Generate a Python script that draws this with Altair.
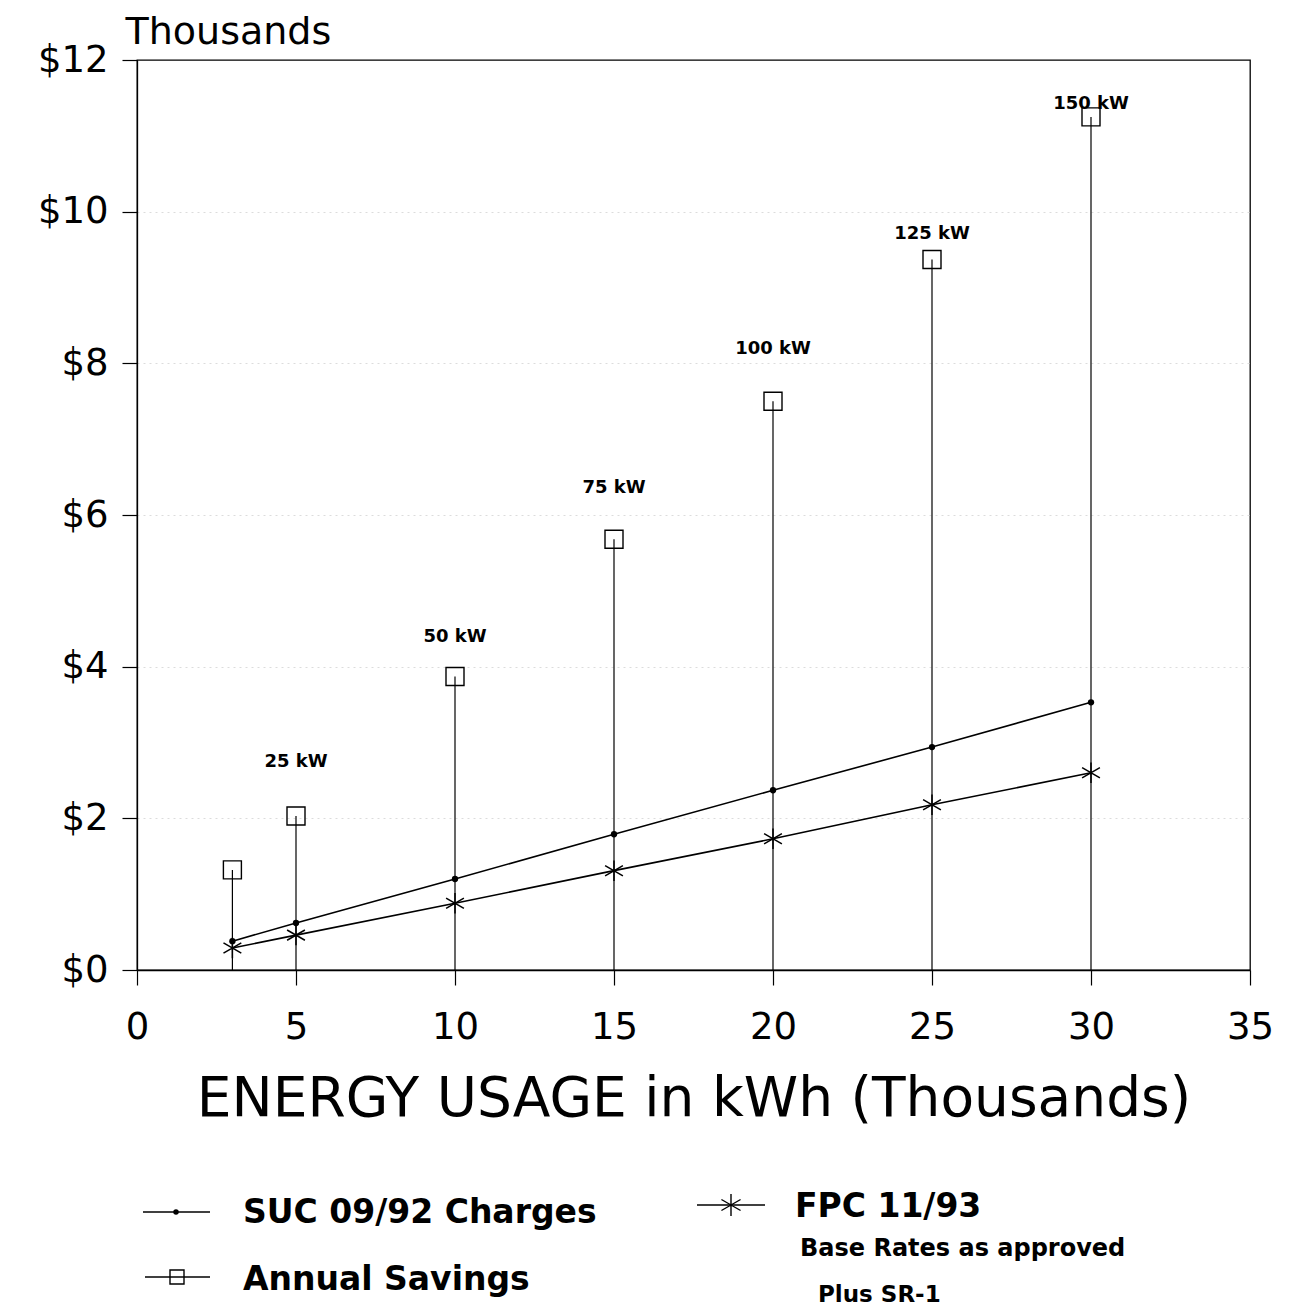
import altair as alt
import pandas as pd

# ---- data ----
usage = [3, 5, 10, 15, 20, 25, 30]                 # kWh (thousands)
suc = [0.38, 0.62, 1.20, 1.79, 2.37, 2.94, 3.53]   # SUC 09/92 charges ($ thousands)
fpc = [0.29, 0.46, 0.88, 1.31, 1.73, 2.18, 2.60]   # FPC 11/93 ($ thousands)
savings = [1.32, 2.03, 3.87, 5.68, 7.50, 9.37, 11.25]  # Annual savings ($ thousands)

demand_labels = ["25 kW", "50 kW", "75 kW", "100 kW", "125 kW", "150 kW"]
label_usage = [5, 10, 15, 20, 25, 30]
label_y = [2.74, 4.39, 6.35, 8.19, 9.70, 11.42]

x_ticks = [0, 5, 10, 15, 20, 25, 30, 35]
y_ticks = [0, 2, 4, 6, 8, 10, 12]

FONT = "DejaVu Sans"
STAR = "M0,-1L0,1M-0.87,-0.5L0.87,0.5M-0.87,0.5L0.87,-0.5"

df = pd.DataFrame({"usage": usage, "suc": suc, "fpc": fpc, "savings": savings, "zero": [0] * len(usage)})
lab = pd.DataFrame({"usage": label_usage, "y": label_y, "text": demand_labels})

xs = alt.Scale(domain=[0, 35], nice=False, zero=False)
ys = alt.Scale(domain=[0, 12], nice=False)

X = alt.X("usage:Q", scale=xs,
          axis=alt.Axis(values=x_ticks, title="ENERGY USAGE in kWh (Thousands)", grid=False,
                        labelPadding=24, titleFontSize=55, titlePadding=27, labelFlush=False,
                        labelFont=FONT, labelFontSize=37, labelColor="black",
                        titleFont=FONT, titleColor="black", titleFontWeight="normal",
                        domainColor="black", domainWidth=1.3, tickColor="black", tickWidth=1.2,
                        tickSize=15))
Y = alt.Y("savings:Q", scale=ys,
          axis=alt.Axis(values=y_ticks, labelExpr="'$' + datum.value", title="Thousands",
                        grid=True, gridColor="#dcdcdc", gridDash=[2, 4], gridWidth=1,
                        gridOpacity={"condition": {"test": "datum.value == 12 || datum.value == 0",
                                                   "value": 0}, "value": 1},
                        labelPadding=14, labelFont=FONT, labelFontSize=37, labelColor="black",
                        titleFont=FONT, titleFontSize=38, titleColor="black", titleFontWeight="normal",
                        titleAngle=0, titleAlign="left", titleBaseline="alphabetic",
                        titleX=-12, titleY=-17,
                        domainColor="black", domainWidth=1.3, tickColor="black", tickWidth=1.2,
                        tickSize=15))

base = alt.Chart(df)

drops = base.mark_rule(color="black", strokeWidth=1.2).encode(x=X, y=Y, y2="zero:Q")

suc_line = base.mark_line(color="black", strokeWidth=1.6).encode(x="usage:Q", y="suc:Q")
suc_pts = base.mark_point(shape="circle", filled=True, color="black", size=40, opacity=1).encode(
    x="usage:Q", y="suc:Q")

fpc_line = base.mark_line(color="black", strokeWidth=1.6).encode(x="usage:Q", y="fpc:Q")
fpc_pts = base.mark_point(shape=STAR, filled=False, color="black", size=420, strokeWidth=1.5,
                          opacity=1).encode(x="usage:Q", y="fpc:Q")

sq = base.mark_point(shape="square", filled=False, color="black", size=324, strokeWidth=1.4,
                     opacity=1).encode(x="usage:Q", y="savings:Q")

labels = alt.Chart(lab).mark_text(font=FONT, fontSize=18, fontWeight="bold", color="black",
                                  align="center", baseline="middle").encode(
    x="usage:Q", y="y:Q", text="text:N")

# ---- hand-drawn legend below the axis title ----
one = pd.DataFrame({"a": [0]})


def txt(s, px, py, size, weight="bold"):
    return alt.Chart(one).mark_text(text=s, font=FONT, fontSize=size, fontWeight=weight, color="black",
                                    align="left", baseline="middle").encode(
        x=alt.value(px), y=alt.value(py))


def seg(x1, x2, py):
    return alt.Chart(one).mark_rule(color="black", strokeWidth=1.5).encode(
        x=alt.value(x1), x2=alt.value(x2), y=alt.value(py))


def sym(shape, px, py, size, filled):
    return alt.Chart(one).mark_point(shape=shape, filled=filled, color="black", size=size,
                                     strokeWidth=1.4, opacity=1).encode(
        x=alt.value(px), y=alt.value(py))


legend = [
    seg(6, 73, 1152), sym("circle", 39, 1152, 30, True), txt("SUC 09/92 Charges", 106, 1153, 33),
    seg(8, 73, 1217), sym("square", 40, 1217, 196, False), txt("Annual Savings", 106, 1220, 33),
    seg(560, 628, 1145), sym(STAR, 594, 1145, 484, False), txt("FPC 11/93", 658, 1147, 33),
    txt("Base Rates as approved", 663, 1189, 24),
    txt("Plus SR-1", 681, 1235, 23),
]

chart = alt.layer(drops, suc_line, fpc_line, suc_pts, fpc_pts, sq, labels, *legend).properties(
    width=1113, height=910,
    autosize=alt.AutoSizeParams(type="none"),
    padding={"left": 129, "top": 52, "right": 34, "bottom": 337},
    background="white",
).configure_view(
    stroke="black", strokeWidth=1.3
)

chart.save("out.html", embed_options={"renderer": "svg", "actions": False})
